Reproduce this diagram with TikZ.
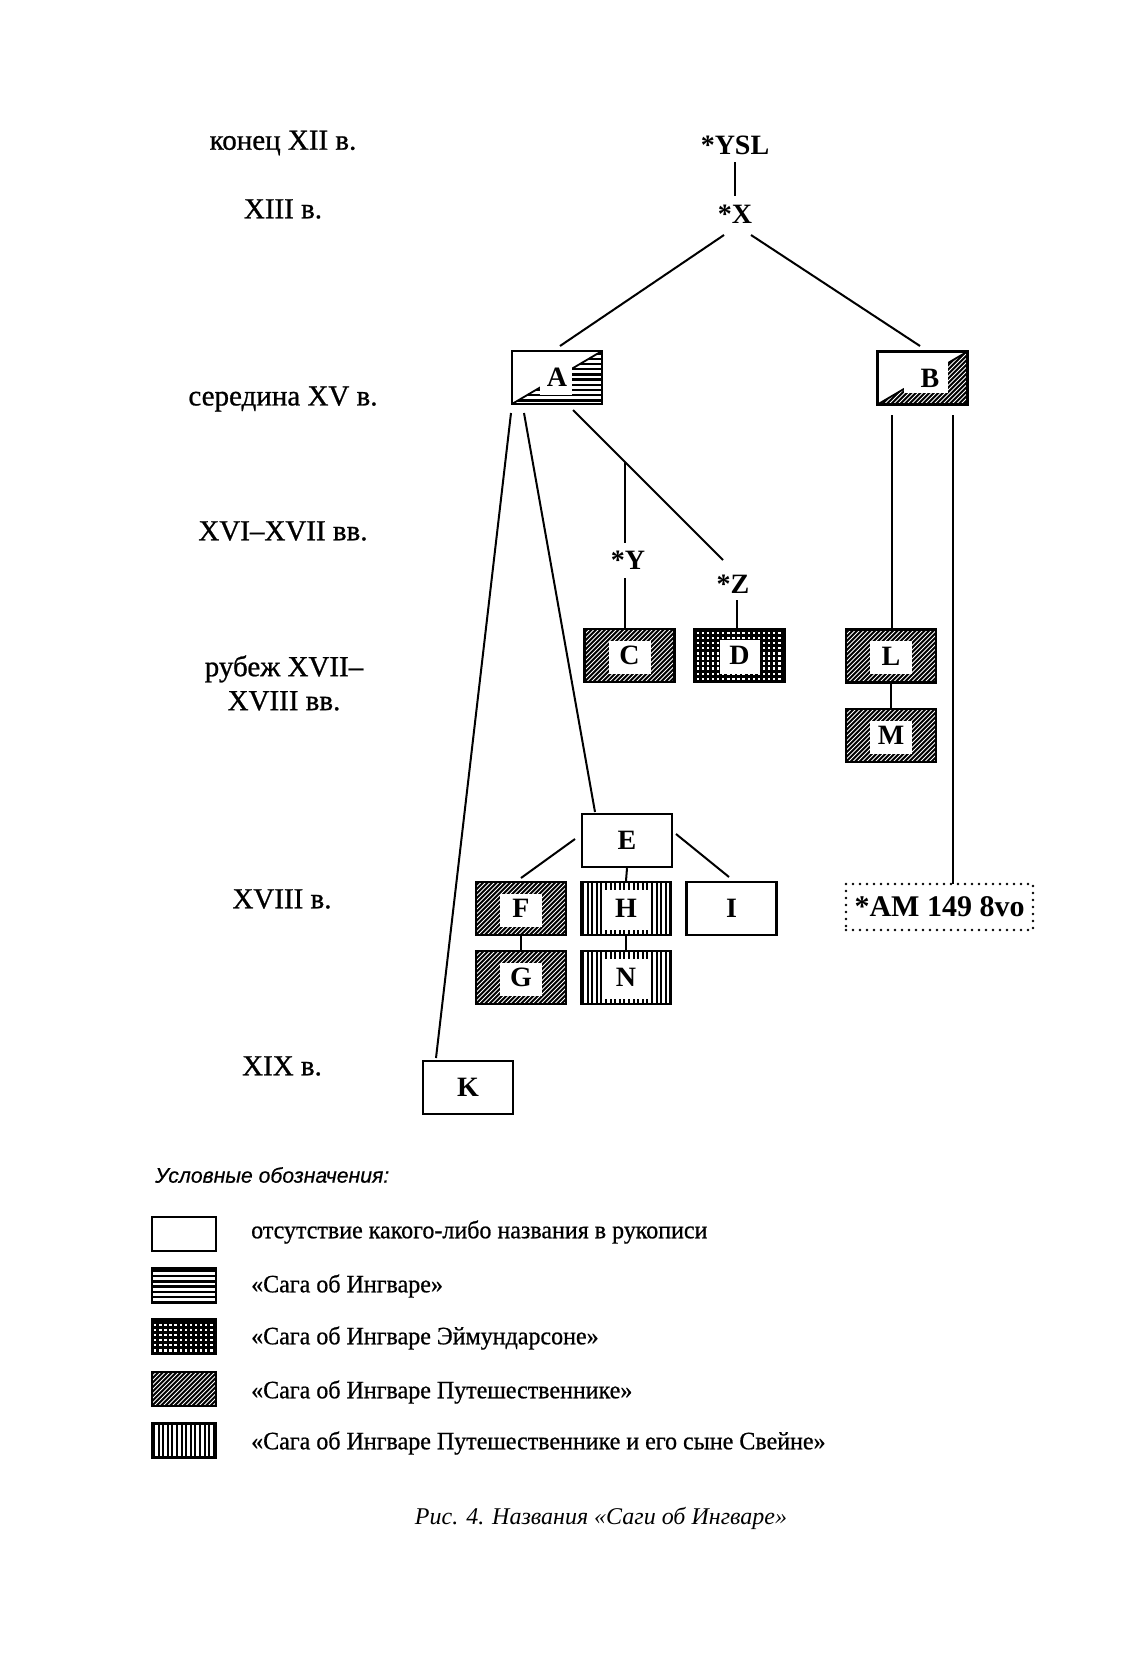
\documentclass[tikz,border=0pt]{standalone}
\usepackage{fontspec}
\setmainfont{Liberation Serif}
\newfontfamily\legfont[FakeStretch=0.96,FakeBold=0.7]{Liberation Serif}
\newfontfamily\perfam[FakeBold=0.8]{Liberation Serif}
\newfontfamily\headfont[FakeBold=0.5]{Liberation Sans}
\usetikzlibrary{calc}

\newcommand\lblfont{\fontsize{28}{30}\selectfont\bfseries}
\newcommand\perfont{\perfam\fontsize{29}{34}\selectfont}
\newcommand\patH{\foreach \k in {2.5,7.7,...,70}{\draw[line width=2.4pt] ([yshift=-\k*1pt]path picture bounding box.north west) -- ([yshift=-\k*1pt]path picture bounding box.north east);}}
\newcommand\patV{\foreach \k in {2,6.6,...,100}{\draw[line width=2pt] ([xshift=\k*1pt]path picture bounding box.south west) -- ([xshift=\k*1pt]path picture bounding box.north west);}}
\newcommand\patD{\fill (path picture bounding box.south west) rectangle (path picture bounding box.north east);
  \foreach \k in {-70,-65.5,...,100}{\draw[white,line width=0.85pt] ([xshift=\k*1pt]path picture bounding box.south west) -- ++(70pt,70pt);}}
\newcommand\patG{\fill (path picture bounding box.south west) rectangle (path picture bounding box.north east);
  \foreach \i in {0,...,19}{\foreach \j in {0,...,11}{\fill[white] ([xshift=\i*5.1pt+2pt,yshift=\j*5.1pt+2pt]path picture bounding box.south west) rectangle ++(2.4pt,2.4pt);}}}
\newcommand\patWin[4]{\fill[white] ([xshift=#1,yshift=#2]path picture bounding box.center) rectangle ([xshift=#3,yshift=#4]path picture bounding box.center);}

\tikzset{
  box/.style={draw, line width=2.4pt, minimum width=90pt, minimum height=53pt, inner sep=0pt, font=\lblfont},
  plainbox/.style={box, fill=white},
  dbox/.style={box, path picture={\patD\patWin{-21pt}{-18pt}{21pt}{15pt}}},
  gbox/.style={box, path picture={\patG\patWin{-20pt}{-18pt}{20pt}{16pt}}},
  vbox/.style={box, path picture={\patV\patWin{-22pt}{-21pt}{22pt}{19pt}}},
  abox/.style={box, path picture={
    \begin{scope}\clip (path picture bounding box.south west) -- (path picture bounding box.south east) -- (path picture bounding box.north east) -- cycle; \patH\end{scope}
    \draw[line width=1.8pt] (path picture bounding box.south west) -- (path picture bounding box.north east);
    \fill[white] ([xshift=28pt]path picture bounding box.north west) rectangle ([xshift=-30pt,yshift=9pt]path picture bounding box.south east);}},
  bbox/.style={box, path picture={
    \begin{scope}\clip (path picture bounding box.south west) -- (path picture bounding box.south east) -- (path picture bounding box.north east) -- cycle; \patD\end{scope}
    \draw[line width=1.8pt] (path picture bounding box.south west) -- (path picture bounding box.north east);
    \fill[white] ([xshift=26pt]path picture bounding box.north west) rectangle ([xshift=-20pt,yshift=12pt]path picture bounding box.south east);}},
  legbox/.style={draw, line width=2.4pt, minimum width=64pt, minimum height=34pt, inner sep=0pt},
  leghbox/.style={legbox, path picture={\patH}},
  leggbox/.style={legbox, path picture={\patG}},
  legdbox/.style={legbox, path picture={\patD}},
  legvbox/.style={legbox, path picture={\patV}},
  period/.style={font=\perfont, align=center, inner sep=0pt},
  star/.style={font=\lblfont, inner sep=0pt},
  legtext/.style={anchor=west, font=\legfont\fontsize{25}{28}\selectfont, inner sep=0pt},
  conn/.style={line width=2pt},
}

\begin{document}
\begin{tikzpicture}[x=1pt,y=-1pt]
\fill[white] (0,0) rectangle (1127,1662);
\useasboundingbox (0,0) rectangle (1127,1662);

% period labels
\node[period] (p1) at (283,143) {конец XII в.};
\node[period] (p2) at (283,209) {XIII в.};
\node[period] (p3) at (283,399) {середина XV в.};
\node[period] (p4) at (283,531) {XVI–XVII вв.};
\node[period] (p5) at (284,683) {рубеж XVII–\\XVIII вв.};
\node[period] (p6) at (282,899) {XVIII в.};
\node[period] (p7) at (282,1066) {XIX в.};

% hypothetical nodes
\node[star] (YSL) at (735,145) {*YSL};
\node[star] (X) at (735,214) {*X};
\node[star] (Y) at (628,560) {*Y};
\node[star] (Z) at (733,584) {*Z};

% manuscripts
\node[abox] (A) at (557,377.5) {A};
\node[bbox] (B) at (922.5,378) {\hspace*{15pt}B};
\node[dbox] (C) at (629.5,655.5) {C};
\node[gbox] (D) at (739.5,655.5) {D};
\node[dbox] (L) at (891,656) {L};
\node[dbox] (M) at (891,735.5) {M};
\node[plainbox] (E) at (627,840.5) {E};
\node[dbox] (F) at (521,908.5) {F};
\node[vbox] (H) at (626,908.5) {H};
\node[plainbox] (I) at (731.5,908.5) {I};
\node[dbox] (G) at (521,977.5) {G};
\node[vbox] (N) at (626,977.5) {N};
\node[plainbox] (K) at (468,1087.5) {K};
\node[draw, line width=2.6pt, line cap=round, dash pattern=on 0pt off 7pt, minimum width=187pt, minimum height=46pt, inner sep=0pt, font=\fontsize{30}{32}\selectfont\bfseries] (AM) at (939.5,907) {*AM 149 8vo};

% connector end points
\coordinate (ysl1) at (735,162);
\coordinate (x0) at (735,196);
\coordinate (x1) at (724,235);
\coordinate (x2) at (751,235);
\coordinate (a0) at (560,346);
\coordinate (b0) at (920,346);
\coordinate (a1) at (511,413);
\coordinate (a2) at (524,413);
\coordinate (a3) at (573,410);
\coordinate (k0) at (436,1058);
\coordinate (e0) at (595,812);
\coordinate (z0) at (723,560);
\coordinate (yb) at (625,462);
\coordinate (y0) at (625,543);
\coordinate (y1) at (625,578);
\coordinate (c0) at (625,628);
\coordinate (z1) at (737,600);
\coordinate (d0) at (737,628);
\coordinate (b1) at (892,415);
\coordinate (b2) at (953,415);
\coordinate (am0) at (953,884);
\coordinate (e1) at (575,839);
\coordinate (f0) at (521,878);
\coordinate (e2) at (676,834);
\coordinate (i0) at (729,877);

% connectors
\draw[line width=1.3pt] (ysl1) -- (x0);
\draw[conn] (x1) -- (a0);
\draw[conn] (x2) -- (b0);
\draw[conn] (a1) -- (k0);
\draw[conn] (a2) -- (e0);
\draw[conn] (a3) -- (z0);
\draw[conn] (yb) -- (y0);
\draw[conn] (y1) -- (c0);
\draw[conn] (z1) -- (d0);
\draw[conn] (b1) -- (L.north -| b1);
\draw[conn] (b2) -- (am0);
\draw[conn] (L.south) -- (M.north);
\draw[conn] (e1) -- (f0);
\draw[conn] (E.south) -- (H.north);
\draw[conn] (e2) -- (i0);
\draw[conn] (F.south) -- (G.north);
\draw[conn] (H.south) -- (N.north);

% legend
\node[anchor=west, inner sep=0pt, font=\headfont\itshape\fontsize{21.2}{24}\selectfont] (leghead) at (155,1175) {Условные обозначения:};
\node[legbox] (l1) at (184,1234) {};
\node[leghbox] (l2) at (184,1285.5) {};
\node[leggbox] (l3) at (184,1336.5) {};
\node[legdbox] (l4) at (184,1389) {};
\node[legvbox] (l5) at (184,1440.5) {};
\node[legtext] (t1) at (251,1232) {отсутствие какого-либо названия в рукописи};
\node[legtext] (t2) at (251,1286) {«Сага об Ингваре»};
\node[legtext] (t3) at (251,1338) {«Сага об Ингваре Эймундарсоне»};
\node[legtext] (t4) at (251,1392) {«Сага об Ингваре Путешественнике»};
\node[legtext] (t5) at (251,1443) {«Сага об Ингваре Путешественнике и его сыне Свейне»};

% caption
\node[font=\itshape\fontsize{24}{28}\selectfont, inner sep=0pt] (cap) at (601,1518) {Рис. 4. Названия «Саги об Ингваре»};
\end{tikzpicture}
\end{document}
